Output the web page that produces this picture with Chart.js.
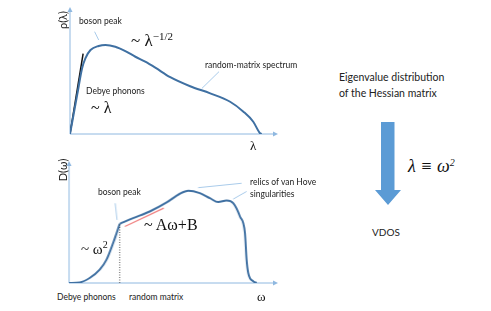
<!DOCTYPE html>
<html>
<head>
<meta charset="utf-8">
<script src="https://cdn.jsdelivr.net/npm/chart.js@4.4.0/dist/chart.umd.min.js"></script>
<style>
  body { margin: 0; background: #fff; width: 491px; height: 311px; overflow: hidden; position: relative; }
  canvas { position: absolute; }
  .t { position: absolute; font-family: Lato, 'Open Sans', sans-serif; font-size: 8.5px; color: #222; line-height: 1; white-space: nowrap; transform: translateY(-50%); }
  .m { position: absolute; font-family: 'Liberation Serif', 'DejaVu Serif', serif; color: #111; line-height: 1; white-space: nowrap; transform: translateY(-50%); }
  .rot { position: absolute; font-family: Lato, sans-serif; font-size: 11px; color: #222; line-height: 1; white-space: nowrap; transform: translate(-50%, -50%) rotate(-90deg); }
  sup { font-size: 62%; vertical-align: 0.6em; }
  #arrow { position: absolute; left: 375px; top: 122px; width: 26px; height: 83px; background: #5b9bd5;
    clip-path: polygon(6px 0, 19.5px 0, 19.5px 68px, 26px 68px, 13px 83px, 0 68px, 6px 68px); }
</style>
</head>
<body>
<canvas id="top"></canvas>
<canvas id="bottom"></canvas>

<div class="rot" style="left:62px; top:20px;">ρ(λ)</div>
<div class="t" style="left:79px; top:21px;">boson peak</div>
<div class="m" style="left:131px; top:40px; font-size:17px;">~ λ<sup style="font-size:11px">−1/2</sup></div>
<div class="t" style="left:205px; top:65px;">random-matrix spectrum</div>
<div class="t" style="left:86px; top:91px;">Debye phonons</div>
<div class="m" style="left:91px; top:108px; font-size:16px;">~ λ</div>
<div class="m" style="left:250px; top:145px; font-size:13px;">λ</div>

<div class="rot" style="left:62px; top:170px;">D(ω)</div>
<div class="t" style="left:98px; top:192px;">boson peak</div>
<div class="t" style="left:250px; top:182px;">relics of van Hove</div>
<div class="t" style="left:250px; top:194px;">singularities</div>
<div class="m" style="left:144px; top:225px; font-size:16px;">~ Aω+B</div>
<div class="m" style="left:81px; top:248px; font-size:15px;">~ ω<sup style="font-size:10px">2</sup></div>
<div class="t" style="left:57px; top:297px;">Debye phonons</div>
<div class="t" style="left:129px; top:297px;">random matrix</div>
<div class="m" style="left:257px; top:296px; font-size:13px;">ω</div>

<div class="t" style="left:339px; top:77px; font-size:10.5px;">Eigenvalue distribution</div>
<div class="t" style="left:339px; top:93px; font-size:10.5px;">of the Hessian matrix</div>
<div id="arrow"></div>
<div class="m" style="left:408px; top:166px; font-size:18px; font-style:italic;">λ ≡ ω<sup style="font-size:10px">2</sup></div>
<div class="t" style="left:372px; top:232px; font-size:10px;">VDOS</div>

<script>
// eigenvalue density rho(lambda)
var lambdaX = [0, 0.035, 0.059, 0.075, 0.10, 0.14, 0.173, 0.221, 0.27, 0.319, 0.367, 0.416, 0.489, 0.586, 0.684, 0.781, 0.846, 0.894, 0.927, 0.935];
var rhoY    = [0, 0.315, 0.53, 0.61, 0.677, 0.71, 0.718, 0.704, 0.669, 0.623, 0.583, 0.535, 0.458, 0.385, 0.328, 0.26, 0.18, 0.099, 0.006, 0];
var debyeTangentX = [0, 0.064];
var debyeTangentY = [0, 0.648];
var topPeakLeaderX = [0.12, 0.14];
var topPeakLeaderY = [0.825, 0.758];
var rmLeaderX = [0.643, 0.727];
var rmLeaderY = [0.367, 0.503];

// VDOS D(omega): Debye part and random matrix part
var omegaDebyeX = [0, 0.052, 0.10, 0.149, 0.182, 0.214, 0.246];
var dDebyeY     = [0, 0.005, 0.042, 0.112, 0.196, 0.335, 0.497];
var omegaRmX = [0.246, 0.311, 0.392, 0.474, 0.538, 0.579, 0.635, 0.684, 0.724, 0.765, 0.797, 0.83, 0.854, 0.862, 0.87, 0.895, 0.911];
var dRmY     = [0.497, 0.545, 0.601, 0.677, 0.750, 0.775, 0.755, 0.713, 0.680, 0.693, 0.671, 0.559, 0.42, 0.196, 0.084, 0.014, 0];
var bosonLineX = [0.246, 0.246];
var bosonLineY = [0, 0.497];
var linearFitX = [0.271, 0.46];
var linearFitY = [0.475, 0.629];
var botPeakLeaderX = [0.224, 0.233];
var botPeakLeaderY = [0.67, 0.53];
var vanHoveLeader1X = [0.627, 0.838];
var vanHoveLeader1Y = [0.801, 0.838];
var vanHoveLeader2X = [0.797, 0.862];
var vanHoveLeader2Y = [0.705, 0.769];

function pts(xs, ys) {
    return xs.map(function(x, i) { return { x: x, y: ys[i] }; });
}

function curve(xs, ys) {
    return { data: pts(xs, ys), borderColor: '#3f70a2', borderWidth: 2, cubicInterpolationMode: 'monotone', pointRadius: 0 };
}

function seg(xs, ys, color, width, dash) {
    return { data: pts(xs, ys), borderColor: color, borderWidth: width, borderDash: dash || [], pointRadius: 0, tension: 0 };
}

// axes with small arrowheads at the chart area edges
var axisArrows = {
    id: 'axisArrows',
    beforeDatasetsDraw: function(chart) {
        var a = chart.chartArea, c = chart.ctx;
        c.save();
        c.strokeStyle = '#8fb8e0';
        c.fillStyle = '#8fb8e0';
        c.lineWidth = 1;
        c.beginPath();
        c.moveTo(a.left, a.bottom);
        c.lineTo(a.right, a.bottom);
        c.moveTo(a.left, a.bottom);
        c.lineTo(a.left, a.top);
        c.stroke();
        c.beginPath();
        c.moveTo(a.right + 3, a.bottom);
        c.lineTo(a.right - 2, a.bottom - 2.5);
        c.lineTo(a.right - 2, a.bottom + 2.5);
        c.fill();
        c.beginPath();
        c.moveTo(a.left, a.top - 3);
        c.lineTo(a.left - 2.5, a.top + 2);
        c.lineTo(a.left + 2.5, a.top + 2);
        c.fill();
        c.restore();
    }
};

function makeChart(id, left, top, w, h, datasets) {
    var el = document.getElementById(id);
    el.style.left = left + 'px';
    el.style.top = top + 'px';
    el.width = w;
    el.height = h;
    el.style.width = w + 'px';
    el.style.height = h + 'px';
    return new Chart(el.getContext('2d'), {
        type: 'scatter',
        data: { datasets: datasets },
        options: {
            responsive: false,
            animation: false,
            showLine: true,
            layout: { padding: { left: 10, top: 5, right: 10, bottom: 6 } },
            plugins: { legend: { display: false }, tooltip: { enabled: false } },
            elements: { line: { fill: false } },
            scales: {
                x: { type: 'linear', min: 0, max: 1, display: false },
                y: { type: 'linear', min: 0, max: 1, display: false }
            }
        },
        plugins: [axisArrows]
    });
}

makeChart('top', 59.5, 5, 225.5, 135, [
    curve(lambdaX, rhoY),
    seg(debyeTangentX, debyeTangentY, '#111', 1.5),
    seg(topPeakLeaderX, topPeakLeaderY, '#a9cbea', 1),
    seg(rmLeaderX, rmLeaderY, '#a9cbea', 1)
]);

makeChart('bottom', 59.3, 159, 225.7, 130.3, [
    seg(bosonLineX, bosonLineY, '#555', 1, [1, 1.5]),
    curve(omegaDebyeX, dDebyeY),
    curve(omegaRmX, dRmY),
    seg(linearFitX, linearFitY, '#f08080', 1.2),
    seg(botPeakLeaderX, botPeakLeaderY, '#a9cbea', 1),
    seg(vanHoveLeader1X, vanHoveLeader1Y, '#a9cbea', 1),
    seg(vanHoveLeader2X, vanHoveLeader2Y, '#a9cbea', 1)
]);
</script>
</body>
</html>
